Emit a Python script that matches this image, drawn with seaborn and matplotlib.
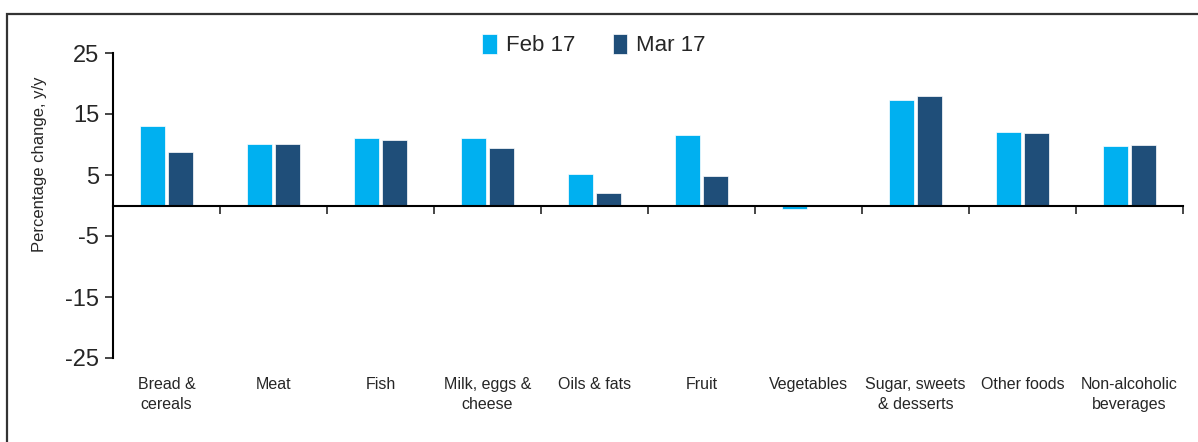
import numpy as np
import pandas as pd
import matplotlib
matplotlib.use("Agg")
import matplotlib.pyplot as plt
from matplotlib.patches import Rectangle
import seaborn as sns

categories = ["Bread &\ncereals", "Meat", "Fish", "Milk, eggs &\ncheese", "Oils & fats",
              "Fruit", "Vegetables", "Sugar, sweets\n& desserts", "Other foods",
              "Non-alcoholic\nbeverages"]
feb17 = [13.1, 10.1, 11.0, 11.0, 5.1, 11.5, -0.6, 17.3, 12.1, 9.7]
mar17 = [8.7, 10.1, 10.8, 9.5, 2.1, 4.9, 0.0, 18.0, 11.9, 10.0]
series_names = ["Feb 17", "Mar 17"]
colors = ["#00B0F0", "#1F4E79"]
yticks = [25, 15, 5, -5, -15, -25]

df = pd.DataFrame({
    "category": categories * 2,
    "value": feb17 + mar17,
    "month": [series_names[0]] * len(categories) + [series_names[1]] * len(categories),
})

sns.set_style("white")
plt.rcParams["font.family"] = ["Liberation Sans", "DejaVu Sans"]
plt.rcParams["axes.unicode_minus"] = False

fig = plt.figure(figsize=(11.98, 4.42), dpi=100)
ax = fig.add_axes([113 / 1198, 1 - 358 / 442, 1070 / 1198, 305 / 442])

sns.barplot(data=df, x="category", y="value", hue="month", palette=colors, saturation=1,
            width=0.52, gap=0.1, edgecolor="white", linewidth=0.5, ax=ax)

ax.set_ylim(-25, 25)
ax.set_xlim(-0.5, len(categories) - 0.5)
ax.set_yticks(yticks)
ax.tick_params(axis="y", direction="out", length=6, width=1.2, labelsize=17, pad=4, left=True)
ax.set_xlabel("")
ax.set_ylabel("Percentage change, y/y", fontsize=12)
ax.yaxis.set_label_coords(-0.062, 0.636)

# x axis drawn at zero, with ticks between categories
for s in ["top", "right"]:
    ax.spines[s].set_visible(False)
ax.spines["left"].set_linewidth(1.5)
ax.spines["left"].set_color("black")
ax.spines["bottom"].set_position(("data", 0))
ax.spines["bottom"].set_linewidth(1.5)
ax.spines["bottom"].set_color("black")
ax.set_xticks(np.arange(-0.5, len(categories), 1), minor=True)
ax.tick_params(axis="x", which="minor", direction="out", length=6, width=1.2, bottom=True)
ax.tick_params(axis="x", which="major", length=0, labelbottom=False)

# category labels at the bottom of the plot area
sec = ax.secondary_xaxis(0)
sec.set_xticks(range(len(categories)), labels=categories)
sec.tick_params(length=0, pad=14, labelsize=11.5)
sec.spines["bottom"].set_visible(False)
for lbl in sec.get_xticklabels():
    lbl.set_linespacing(1.4)

# legend at top
ax.get_legend().remove()
handles = [Rectangle((0, 0), 1, 1, fc=c, ec="white", lw=0.5) for c in colors]
fig.legend(handles, series_names, loc="center", bbox_to_anchor=(594 / 1198, 1 - 45 / 442),
           ncol=2, frameon=False, fontsize=16, handlelength=0.65, handleheight=1.0,
           handletextpad=0.4, columnspacing=1.7)

# outer frame
fig.patches.append(Rectangle((7 / 1198, -0.2), 1.5, 1.2 - 14 / 442, transform=fig.transFigure,
                             fill=False, ec="#333333", lw=1.6))

fig.savefig("out.png", dpi=100)
